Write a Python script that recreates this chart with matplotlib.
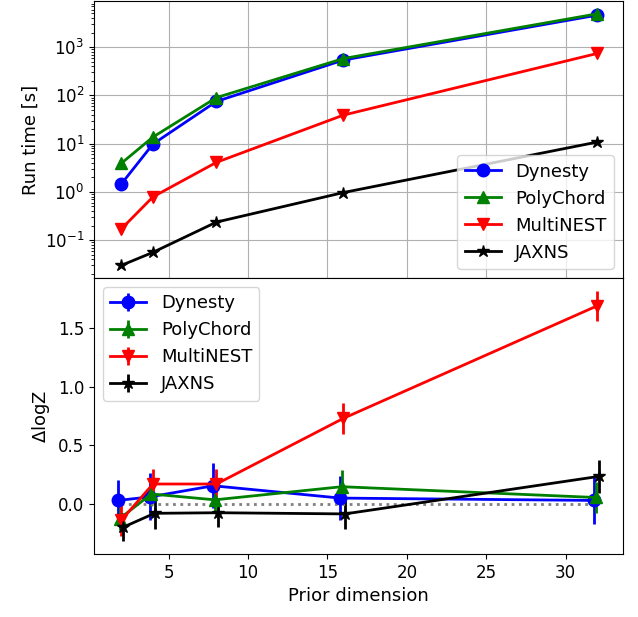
import numpy as np
import matplotlib
matplotlib.use('Agg')
import matplotlib.pyplot as plt

plt.rcParams['font.size'] = 13
plt.rcParams['xtick.labelsize'] = 12
plt.rcParams['ytick.labelsize'] = 12

dims = np.array([2, 4, 8, 16, 32])
names = ['Dynesty', 'PolyChord', 'MultiNEST', 'JAXNS']
colors = ['blue', 'green', 'red', 'black']
markers = ['o', '^', 'v', '*']
offsets = [-0.2, -0.1, 0.0, 0.1]

# run time [s]
t_dynesty = [1.45, 9.8, 75, 540, 4600]
t_polychord = [3.9, 13.7, 90, 580, 4900]
t_multinest = [0.17, 0.79, 4.1, 39, 740]
t_jaxns = [0.030, 0.056, 0.237, 0.97, 10.8]

# delta logZ and errors
dz_dynesty = [0.03, 0.06, 0.155, 0.05, 0.03]
dz_polychord = [-0.125, 0.085, 0.035, 0.147, 0.055]
dz_multinest = [-0.14, 0.17, 0.17, 0.73, 1.69]
dz_jaxns = [-0.20, -0.08, -0.075, -0.085, 0.235]
err_dynesty = [0.17, 0.2, 0.19, 0.19, 0.2]
err_polychord = [0.1, 0.1, 0.1, 0.14, 0.13]
err_multinest = [0.13, 0.13, 0.13, 0.13, 0.13]
err_jaxns = [0.12, 0.13, 0.12, 0.13, 0.14]

times = [t_dynesty, t_polychord, t_multinest, t_jaxns]
dzs = [dz_dynesty, dz_polychord, dz_multinest, dz_jaxns]
errs = [err_dynesty, err_polychord, err_multinest, err_jaxns]

fig = plt.figure(figsize=(6.38, 6.17), dpi=100)
ax1 = fig.add_axes([0.1473, 0.5494, 0.829, 0.4486])
ax2 = fig.add_axes([0.1473, 0.1021, 0.829, 0.4473], sharex=ax1)

for i in range(4):
    ax1.plot(dims, times[i], color=colors[i], marker=markers[i], lw=2, ms=9, label=names[i])
ax1.set_yscale('log')
ax1.set_ylabel('Run time [s]')
ax1.grid(True)
ax1.legend(loc='lower right')
plt.setp(ax1.get_xticklabels(), visible=False)

for i in range(4):
    ax2.errorbar(dims + offsets[i], dzs[i], yerr=errs[i], color=colors[i], marker=markers[i],
                 lw=2, elinewidth=2, ms=9, label=names[i])
ax2.hlines(0, dims[0], dims[-1], colors='grey', linestyles=':', lw=2)
ax2.set_ylabel(r'$\Delta$logZ')
ax2.set_xlabel('Prior dimension')
ax2.set_yticks([0.0, 0.5, 1.0, 1.5])
ax2.legend(loc='upper left')

fig.savefig('out.png', dpi=100)
